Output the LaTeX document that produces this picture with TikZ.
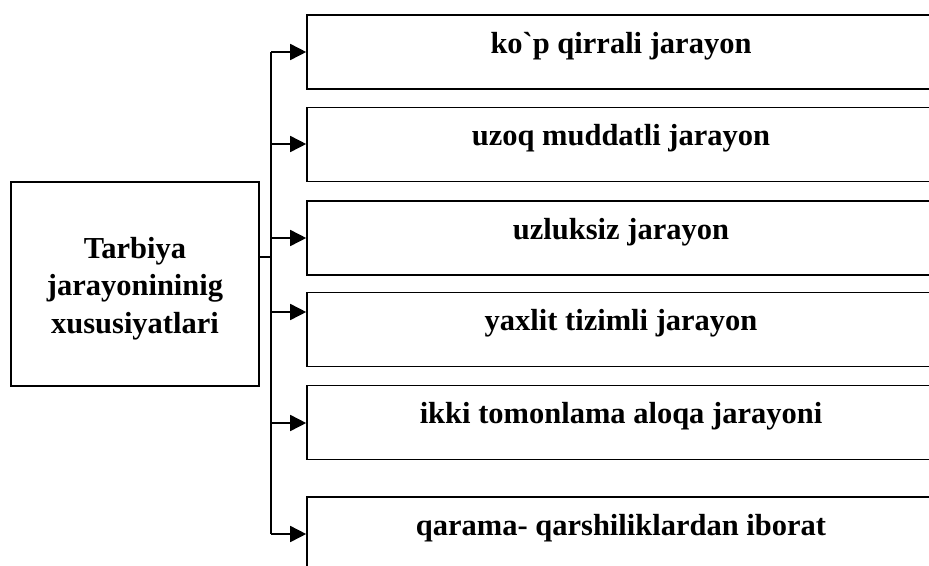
\documentclass[tikz,border=0pt]{standalone}
\usepackage{fontspec}
\newfontfamily\boxfont{Liberation Serif}
\usetikzlibrary{arrows.meta}
\begin{document}
\begin{tikzpicture}[x=1pt,y=-1pt,line width=1.6pt]
\tikzstyle{every node}+=[inner sep=0pt,font=\boxfont\bfseries\fontsize{30.5}{37.5}\selectfont]
\tikzstyle{box}=[draw,minimum width=628pt,text height=38pt,text depth=36pt]
\tikzstyle{arr}=[-{Triangle[length=16pt,width=16pt]}]
\useasboundingbox (0,0) rectangle (929,565);
\clip (0,0) rectangle (929,565);
\node [draw,minimum width=248pt,minimum height=204pt,align=center] (main) at (135,284)
  {\rule{0pt}{30pt}Tarbiya\\jarayonininig\\xususiyatlari};
\node [box] (b1) at (621,52) {ko`p qirrali jarayon};
\node [box] (b2) at (621,144.5) {uzoq muddatli jarayon};
\node [box] (b3) at (621,238) {uzluksiz jarayon};
\node [box] (b4) at (621,329.5) {yaxlit tizimli jarayon};
\node [box] (b5) at (621,422.5) {ikki tomonlama aloqa jarayoni};
\node [box] (b6) at (621,534) {qarama- qarshiliklardan iborat};
\coordinate (s) at (271,257);
\coordinate (t1) at (271,52);
\coordinate (t2) at (271,144);
\coordinate (t3) at (271,238);
\coordinate (t4) at (271,312);
\coordinate (t5) at (271,423);
\coordinate (t6) at (271,534);
\draw [line width=1.2pt] (main.east |- s) -- (s);
\draw (t1) -- (t6);
\draw [arr] (t1) -- (t1 -| b1.west);
\draw [arr] (t2) -- (t2 -| b2.west);
\draw [arr] (t3) -- (t3 -| b3.west);
\draw [arr] (t4) -- (t4 -| b4.west);
\draw [arr] (t5) -- (t5 -| b5.west);
\draw [arr] (t6) -- (t6 -| b6.west);
\end{tikzpicture}
\end{document}
